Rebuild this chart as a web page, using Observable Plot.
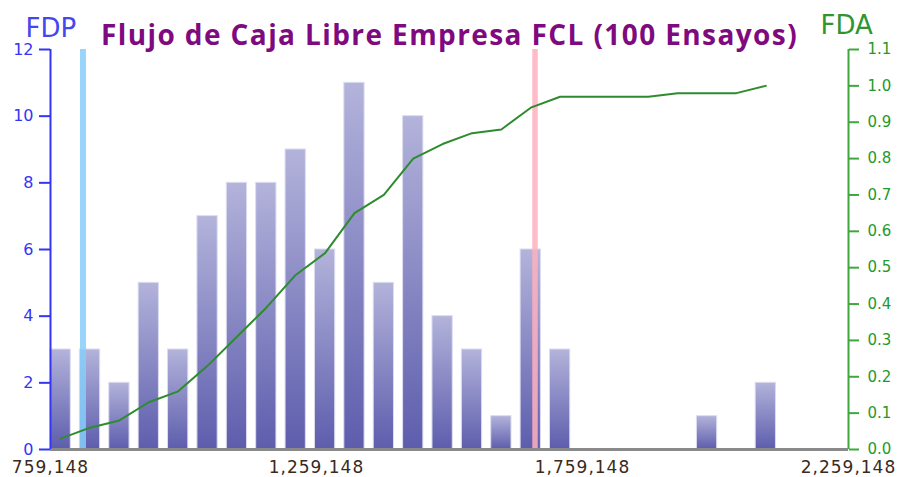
<!DOCTYPE html>
<html>
<head>
<meta charset="utf-8">
<script src="https://cdn.jsdelivr.net/npm/d3@7"></script>
<script src="https://cdn.jsdelivr.net/npm/@observablehq/plot@0.6"></script>
<style>
  html, body { margin: 0; padding: 0; background: #fff; }
  #chart svg { display: block; }
</style>
</head>
<body>
<div id="chart"></div>
<script>
// ---- data ----
const title = "Flujo de Caja Libre Empresa FCL (100 Ensayos)";
const leftLabel = "FDP";
const rightLabel = "FDA";
const binStart = 759148;      // first bin lower edge
const binWidth = 55230;       // bin width
const counts = [3, 3, 2, 5, 3, 7, 8, 8, 9, 6, 11, 5, 10, 4, 3, 1, 6, 3, 0, 0, 0, 0, 1, 0, 2];
const cdf = [0.03, 0.06, 0.08, 0.13, 0.16, 0.23, 0.31, 0.39, 0.48, 0.54, 0.65, 0.70, 0.80, 0.84, 0.87, 0.88, 0.94, 0.97, 0.97, 0.97, 0.97, 0.98, 0.98, 0.98, 1.00];
const xTicks = [759148, 1259148, 1759148, 2259148];
const pdfTicks = [0, 2, 4, 6, 8, 10, 12];
const cdfTicks = [0, 0.1, 0.2, 0.3, 0.4, 0.5, 0.6, 0.7, 0.8, 0.9, 1.0, 1.1];
const percentileLow = 820200;
const percentileHigh = 1669900;

// ---- derived tables ----
const xMin = xTicks[0], xMax = xTicks[xTicks.length - 1];
const pdfMax = 12, cdfMax = 1.1;
const toLeft = v => v * pdfMax / cdfMax;
const barRatio = 0.69;
const rows = counts.map((c, i) => {
  const x1 = binStart + i * binWidth;
  return { x1, x2: x1 + barRatio * binWidth, count: c, cdf: cdf[i] };
});

const blue = "#3535f5";
const green = "#3ea83e";

const svg = Plot.plot({
  width: 897,
  height: 477,
  marginTop: 49,
  marginBottom: 28,
  marginLeft: 50,
  marginRight: 49,
  style: { background: "#fff", fontFamily: "DejaVu Sans" },
  x: { domain: [xMin, xMax] },
  y: { domain: [0, pdfMax] },
  marks: [
    Plot.rectY(rows.filter(d => d.count > 0), {
      x1: "x1", x2: "x2", y: "count",
      fill: "url(#barGrad)", stroke: "#dcdcf0", strokeWidth: 1
    }),
    Plot.ruleX([percentileLow], { y1: 0, y2: pdfMax, stroke: "#87cefa", strokeWidth: 6, strokeOpacity: 0.85 }),
    Plot.ruleX([percentileHigh], { y1: 0, y2: pdfMax, stroke: "#ffb0be", strokeWidth: 5.5, strokeOpacity: 0.85 }),
    Plot.lineY(rows, {
      x: d => (d.x1 + d.x2) / 2, y: d => toLeft(d.cdf),
      stroke: "#2e8b2e", strokeWidth: 2
    }),
    Plot.ruleY([0], { stroke: "#8a8a8a", strokeWidth: 3 }),
    Plot.ruleX([xMin], { y1: 0, y2: pdfMax, stroke: blue, strokeWidth: 2 }),
    Plot.ruleX([xMax], { y1: 0, y2: pdfMax, stroke: green, strokeWidth: 2 }),
    Plot.axisY({
      anchor: "left", ticks: pdfTicks, tickSize: 11, tickPadding: 6,
      color: blue, label: null, fontSize: 16, strokeWidth: 2
    }),
    Plot.axisY({
      anchor: "right", ticks: cdfTicks.map(toLeft), tickSize: 10, tickPadding: 9,
      tickFormat: d => (d * cdfMax / pdfMax).toFixed(1),
      color: green, fill: "#1f9a2a", label: null, fontSize: 15, strokeWidth: 2
    }),
    Plot.axisX({
      anchor: "bottom", ticks: xTicks, tickSize: 0, tickPadding: 11,
      tickFormat: d3.format(","), fill: "#3a2a20", label: null, fontSize: 17
    }),
    Plot.text([title], {
      text: d => d, frameAnchor: "top", lineAnchor: "middle", dy: -13,
      fontSize: 28, fontWeight: "bold", fill: "#7f0a7f", fontFamily: "Open Sans"
    }),
    Plot.text([leftLabel], {
      text: d => d, frameAnchor: "top-left", lineAnchor: "middle", textAnchor: "start", dx: -25, dy: -20.5,
      fontSize: 26, fill: "#4646ee"
    }),
    Plot.text([rightLabel], {
      text: d => d, frameAnchor: "top-right", lineAnchor: "middle", textAnchor: "start", dx: -28, dy: -23.5,
      fontSize: 26, fill: "#2f962f"
    })
  ]
});

// per-bar vertical gradient
const defs = d3.select(svg).insert("defs", ":first-child");
const grad = defs.append("linearGradient")
  .attr("id", "barGrad").attr("x1", 0).attr("y1", 0).attr("x2", 0).attr("y2", 1);
grad.append("stop").attr("offset", "0%").attr("stop-color", "#b3b3db");
grad.append("stop").attr("offset", "100%").attr("stop-color", "#5d5dad");

// letter spacing to match the reference's wide text
d3.select(svg).selectAll('[aria-label="x-axis tick label"] text').style("letter-spacing", "1px");
d3.select(svg).selectAll('[aria-label="text"] text')
  .filter(function () { return this.textContent === title; })
  .style("letter-spacing", "1.4px");

document.getElementById("chart").appendChild(svg);
</script>
</body>
</html>
